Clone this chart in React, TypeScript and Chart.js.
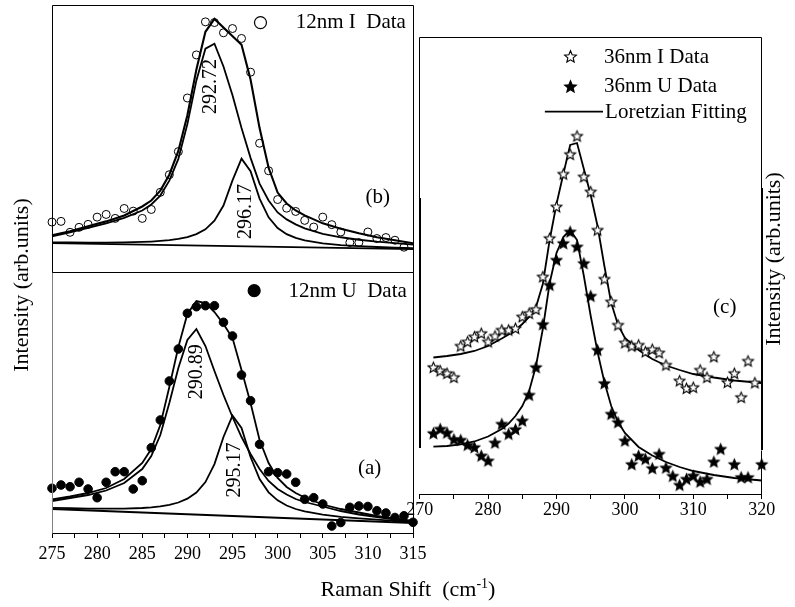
import React, { useEffect, useRef } from "react";
import { Chart, registerables } from "chart.js";

Chart.register(...registerables);

const W = 795;
const H = 607;
const SERIF = "'Liberation Serif', 'Times New Roman', Times, serif";
const AXIS_H = 40;

// ---------------- Panel (b): 12nm I ----------------
const bDataX = [275, 276, 277, 278, 279, 280, 281, 282, 283, 284, 285, 286, 287, 288, 289, 290, 291, 292, 293, 294, 295, 296, 297, 298, 299, 300, 301, 302, 303, 304, 305, 306, 307, 308, 309, 310, 311, 312, 313, 314];
const bDataY = [50.3, 51, 40, 45, 48, 55.3, 58, 54, 64, 61.3, 54, 63, 80.3, 98, 121.3, 175.3, 218.7, 252, 251.3, 241, 245.3, 235.3, 201.3, 129.7, 102, 73, 64.3, 61, 52, 45.3, 55.3, 47.7, 40.3, 29.7, 29.7, 40.3, 33.7, 34.7, 32, 25];

const fitX = [275, 277, 279, 281, 283, 285, 286, 287, 288, 289, 290, 291, 292, 293, 294, 295, 296, 297, 298, 299, 300, 301, 302, 303, 305, 307, 309, 311, 313, 315];
const bSum = [37, 41, 46, 51, 57, 66, 72, 82, 98, 122, 158, 204, 242, 255, null, null, 229, 194, 145, 105, 80, 69, 62, 57, 49, 43.5, 39, 35, 32, 29];
const bPeak1 = [36, 40, 44.5, 49, 54.5, 62, 68, 77, 92, 114, 149, 193, 225, 230, 207, 178, 145, 115, 89, 72, 60, 53, 48, 44, 38.5, 35, 32.5, 30.5, 29, 27.5];
const bPeak2 = [29.8, 29.7, 29.6, 29.6, 29.8, 30.3, 30.7, 31.3, 32.1, 33.3, 35.2, 38.2, 43, 51.7, 67, 92.3, 114.2, 101.6, 74, 55.1, 44.3, 38.1, 34.3, 31.8, 28.8, 27.1, 26, 25.2, 24.5, 24];
const baseX = [275, 315];
const bBase = [29, 23];

// ---------------- Panel (a): 12nm U ----------------
const aDataX = [275, 276, 277, 278, 279, 280, 281, 282, 283, 284, 285, 286, 287, 288, 289, 290, 291, 292, 293, 294, 295, 296, 297, 298, 299, 300, 301, 302, 303, 304, 305, 306, 307, 308, 309, 310, 311, 312, 313, 314, 315];
const aDataY = [44.7, 48, 46.3, 50.7, 44, 35.3, 50.7, 61.3, 61.3, 44, 52.3, 85.3, 113, 152, 184, 219.7, 226.3, 227.3, 227.3, 210.7, 197, 158, 132.3, 88.7, 61.3, 60.3, 59, 50.7, 33.7, 35.3, 29, 7, 10.5, 25.7, 27, 26.5, 22.3, 20, 15.5, 17.2, 10.7];
const aSum = [33.5, 36.5, 40, 45, 54, 70, 84, 108, 146, 186, 219, 232, 230, 221, 209, 195, 163, 130, 93, 70, 55, 46, 40, 35.5, 28.5, 24, 20.5, 17, 14.5, 12];
const aPeak1 = [32, 35, 38, 42.5, 50, 64, 77, 98, 130, 165, 193, 204, 187, 162, 138, 116, 96, 79, 64, 52, 44, 38.5, 34, 31, 26.5, 22, 18.5, 16, 13.5, 11.5];
const aPeak2 = [25.2, 24.8, 24.4, 24.3, 24.4, 25, 25.6, 26.6, 28.2, 30.5, 34.3, 40.4, 50.9, 68.9, 96, 117.4, 105, 76, 54, 40.7, 32.7, 27.5, 24, 21.6, 18.3, 16.2, 14.6, 13.3, 12.2, 11.2];
const aBase = [24, 10];

// ---------------- Panel (c): 36nm I / U ----------------
const cIX = [272, 273, 274, 275, 276, 277, 278, 279, 280, 281, 282, 283, 284, 285, 286, 287, 288, 289, 290, 291, 292, 293, 294, 295, 296, 297, 298, 299, 300, 301, 302, 303, 304, 305, 306, 308, 309, 310, 311, 312, 313, 315, 316, 317, 318, 319];
const cIY = [126.7, 123.3, 120.7, 116.7, 148, 152.3, 157.3, 160.7, 152.3, 158, 164, 164, 165.7, 177.3, 180.7, 184.7, 217.3, 255.7, 287.3, 320, 339.7, 358, 317.3, 302.3, 264, 215, 192.3, 169, 151.3, 148, 149, 142.3, 144.7, 141.3, 129, 113.3, 105.7, 106.7, 124, 116.7, 137.3, 111.7, 120.7, 96.7, 133, 111.3];
const cUX = [272, 273, 274, 275, 276, 277, 278, 279, 280, 281, 282, 283, 284, 285, 286, 287, 288, 289, 290, 291, 292, 293, 294, 295, 296, 297, 298, 299, 300, 301, 302, 303, 304, 305, 306, 307, 308, 309, 310, 311, 312, 313, 314, 316, 317, 318, 320];
const cUY = [60.7, 65, 61.3, 54.7, 54, 49, 46.7, 38.3, 33.3, 51.3, 70, 60, 64.7, 73.3, 99, 126.7, 169.7, 209, 234, 250.7, 262.3, 247.3, 230.7, 198, 144, 110.7, 80, 71.7, 53.3, 29.7, 38.3, 35, 25.7, 40, 26.3, 18, 9, 15, 18.3, 12.3, 15, 32.3, 45, 29.7, 16.7, 16.7, 29.7];
const cFitX = [272, 274, 276, 278, 280, 282, 283, 284, 285, 286, 287, 288, 289, 290, 291, 292, 293, 294, 295, 296, 297, 298, 299, 300, 302, 304, 306, 308, 310, 313, 316, 320];
const cIFit = [136.5, 138, 140, 143, 148, 155.5, 159.5, 164, 170, 177, 187, 210, 254, 290, 320, 349, 351, 325, 299, 268, 228, 191, 169, 156, 144, 135, 128.5, 124, 120, 116.5, 113.5, 111];
const cUFit = [47.3, 48, 49.7, 52.5, 57.5, 65, 70.5, 78, 88, 103, 128, 165, 211, 241, 257, 264, 254, 218, 178, 142, 112, 88, 72, 61, 47, 38.5, 32, 27, 23, 19, 16, 13.5];

// ---------------- text / labels ----------------
const legendB = "12nm I  Data";
const legendA = "12nm U  Data";
const legendC = ["36nm I Data", "36nm U Data", "Loretzian Fitting"];
const peakLabelsB = ["292.72", "296.17"];
const peakLabelsA = ["290.89", "295.17"];
const yTitle = "Intensity (arb.units)";
const xTitleMain = "Raman Shift  (cm";
const xTitleSup = "-1";

type TextItem = { text: string; x: number; y: number; size: number; rot?: number; align?: CanvasTextAlign };
type Mark = { kind: "circle" | "star" | "line"; x: number; y: number; x2?: number; r?: number; filled?: boolean };
type Seg = { x1: number; y1: number; x2: number; y2: number; w: number; color: string };

function pts(xs: number[], ys: (number | null)[]) {
  const out: { x: number; y: number }[] = [];
  xs.forEach((x, i) => {
    const y = ys[i];
    if (y !== null && y !== undefined) out.push({ x, y });
  });
  return out;
}

function starCanvas(r: number, filled: boolean) {
  const s = Math.ceil(r * 2 + 3) | 1;
  const c = document.createElement("canvas");
  c.width = s;
  c.height = s;
  const ctx = c.getContext("2d")!;
  ctx.translate(s / 2, s / 2 + r * 0.08);
  ctx.beginPath();
  for (let i = 0; i < 10; i++) {
    const rr = i % 2 === 0 ? r : r * 0.45;
    const a = -Math.PI / 2 + (i * Math.PI) / 5;
    const px = rr * Math.cos(a);
    const py = rr * Math.sin(a);
    if (i === 0) ctx.moveTo(px, py);
    else ctx.lineTo(px, py);
  }
  ctx.closePath();
  ctx.fillStyle = filled ? "#000" : "#fff";
  ctx.fill();
  ctx.lineWidth = 1.1;
  ctx.strokeStyle = "#000";
  ctx.stroke();
  return c;
}

const lineDs = (xs: number[], ys: (number | null)[], w = 1.8) => ({
  data: pts(xs, ys),
  showLine: true,
  borderColor: "#000",
  borderWidth: w,
  pointRadius: 0,
  pointHoverRadius: 0,
  fill: false,
  tension: 0,
  clip: false,
});

const markDs = (xs: number[], ys: number[], style: any, r: number, bg: string) => ({
  data: pts(xs, ys),
  showLine: false,
  pointStyle: style,
  pointRadius: r,
  pointHoverRadius: r,
  pointBackgroundColor: bg,
  pointBorderColor: "#000",
  pointBorderWidth: 1,
  clip: false,
});

type Spec = {
  area: { left: number; top: number; right: number; bottom: number };
  xMin: number;
  xMax: number;
  yMax: number;
  axis: null | { step: number; every: number; padding: number };
  datasets: any[];
  texts: TextItem[];
  marks: Mark[];
  frame: Seg[];
  overlay?: (ctx: CanvasRenderingContext2D) => void;
};

function drawText(ctx: CanvasRenderingContext2D, t: TextItem, px: number, py: number) {
  ctx.save();
  ctx.font = `${t.size}px ${SERIF}`;
  ctx.fillStyle = "#000";
  ctx.textAlign = t.align ?? "center";
  ctx.textBaseline = "middle";
  ctx.translate(px, py);
  if (t.rot) ctx.rotate((t.rot * Math.PI) / 180);
  ctx.fillText(t.text, 0, 0);
  ctx.restore();
}

function decorPlugin(spec: Spec, stars: { open: HTMLCanvasElement; filled: HTMLCanvasElement }) {
  return {
    id: "decor",
    afterDraw(chart: any) {
      const ctx: CanvasRenderingContext2D = chart.ctx;
      const xs = chart.scales.x;
      const ys = chart.scales.y;
      const X = (v: number) => xs.getPixelForValue(v);
      const Y = (v: number) => ys.getPixelForValue(v);
      const crisp = (p: number, w: number) => (Math.round(w) % 2 === 1 ? Math.round(p - 0.5) + 0.5 : Math.round(p));
      ctx.save();
      for (const s of spec.frame) {
        ctx.beginPath();
        ctx.strokeStyle = s.color;
        ctx.lineWidth = s.w;
        ctx.moveTo(crisp(X(s.x1), s.w), crisp(Y(s.y1), s.w));
        ctx.lineTo(crisp(X(s.x2), s.w), crisp(Y(s.y2), s.w));
        ctx.stroke();
      }
      for (const m of spec.marks) {
        const px = X(m.x);
        const py = Y(m.y);
        if (m.kind === "circle") {
          ctx.beginPath();
          ctx.arc(px, py, m.r ?? 6, 0, Math.PI * 2);
          ctx.lineWidth = 1.2;
          ctx.strokeStyle = "#000";
          if (m.filled) {
            ctx.fillStyle = "#000";
            ctx.fill();
          }
          ctx.stroke();
        } else if (m.kind === "star") {
          const img = m.filled ? stars.filled : stars.open;
          ctx.drawImage(img, Math.round(px - img.width / 2), Math.round(py - img.height / 2));
        } else {
          ctx.beginPath();
          ctx.lineWidth = 1.8;
          ctx.strokeStyle = "#000";
          ctx.moveTo(px, py);
          ctx.lineTo(X(m.x2 ?? m.x), py);
          ctx.stroke();
        }
      }
      for (const t of spec.texts) drawText(ctx, t, X(t.x), Y(t.y));
      if (spec.overlay) spec.overlay(ctx);
      ctx.restore();
    },
  };
}

function buildConfig(spec: Spec, stars: any) {
  const a = spec.area;
  const padBottom = spec.axis ? H - a.bottom - AXIS_H : H - a.bottom;
  const ax = spec.axis;
  const xScale: any = { type: "linear", min: spec.xMin, max: spec.xMax, display: !!ax };
  if (ax) {
    Object.assign(xScale, {
      afterFit: (s: any) => {
        s.height = AXIS_H;
      },
      ticks: {
        stepSize: ax.step,
        autoSkip: false,
        maxRotation: 0,
        minRotation: 0,
        padding: ax.padding,
        color: "#000",
        font: { family: SERIF, size: 18 },
        callback: (v: number) => (Math.abs(v % ax.every) < 1e-6 ? String(v) : ""),
      },
      grid: { display: true, drawOnChartArea: false, drawTicks: true, tickLength: 5, color: "#000", lineWidth: 1 },
      border: { display: true, color: "#000", width: 1 },
    });
  }
  return {
    type: "scatter" as const,
    data: { datasets: spec.datasets },
    options: {
      responsive: false,
      animation: false as const,
      events: [],
      layout: { padding: { left: a.left, right: W - a.right, top: a.top, bottom: padBottom } },
      plugins: { legend: { display: false }, tooltip: { enabled: false }, title: { display: false } },
      scales: { x: xScale, y: { type: "linear", min: 0, max: spec.yMax, display: false } },
    },
    plugins: [decorPlugin(spec, stars)],
  };
}

function box(x1: number, x2: number, y1: number, y2: number, leftColor = "#000"): Seg[] {
  return [
    { x1, y1: y2, x2, y2, w: 1, color: "#000" },
    { x1, y1, x2: x1, y2, w: 1, color: leftColor },
    { x1: x2, y1, x2, y2, w: 1, color: "#000" },
  ];
}

function drawTitles(ctx: CanvasRenderingContext2D) {
  drawText(ctx, { text: yTitle, x: 0, y: 0, size: 22, rot: -90 }, 22, 285);
  drawText(ctx, { text: yTitle, x: 0, y: 0, size: 22, rot: -90 }, 774, 259);
  ctx.save();
  ctx.fillStyle = "#000";
  ctx.textBaseline = "middle";
  ctx.textAlign = "left";
  ctx.font = `22px ${SERIF}`;
  const w1 = ctx.measureText(xTitleMain).width;
  const w3 = ctx.measureText(")").width;
  ctx.font = `14px ${SERIF}`;
  const w2 = ctx.measureText(xTitleSup).width;
  let x = 408 - (w1 + w2 + w3) / 2;
  const y = 590;
  ctx.font = `22px ${SERIF}`;
  ctx.fillText(xTitleMain, x, y);
  x += w1;
  ctx.font = `14px ${SERIF}`;
  ctx.fillText(xTitleSup, x, y - 6);
  x += w2;
  ctx.font = `22px ${SERIF}`;
  ctx.fillText(")", x, y);
  ctx.restore();
}

function makeSpecs(stars: any) {
  const b: Spec = {
    area: { left: 52, top: 3, right: 413, bottom: 272 },
    xMin: 275,
    xMax: 315,
    yMax: 269,
    axis: null,
    datasets: [
      markDs(bDataX, bDataY, "circle", 4, "rgba(0,0,0,0)"),
      lineDs(fitX, bSum, 2.1),
      lineDs(fitX, bPeak1),
      lineDs(fitX, bPeak2),
      lineDs(baseX, bBase),
    ],
    texts: [
      { text: peakLabelsB[0], x: 292.56, y: 187, size: 20, rot: -90 },
      { text: peakLabelsB[1], x: 296.44, y: 61, size: 20, rot: -90 },
      { text: "(b)", x: 311.1, y: 75, size: 21 },
      { text: legendB, x: 302, y: 251, size: 21, align: "left" },
    ],
    marks: [{ kind: "circle", x: 298.1, y: 251.3, r: 6, filled: false }],
    frame: [...box(275, 315, 0, 269), { x1: 275, y1: 0, x2: 315, y2: 0, w: 1, color: "#000" }],
  };
  const a: Spec = {
    area: { left: 52, top: 272, right: 413, bottom: 533 },
    xMin: 275,
    xMax: 315,
    yMax: 261,
    axis: { step: 2.5, every: 5, padding: 5 },
    datasets: [
      markDs(aDataX, aDataY, "circle", 4.3, "#000"),
      lineDs(fitX, aSum),
      lineDs(fitX, aPeak1),
      lineDs(fitX, aPeak2),
      lineDs(baseX, aBase),
    ],
    texts: [
      { text: peakLabelsA[0], x: 291.0, y: 161.3, size: 20, rot: -90 },
      { text: peakLabelsA[1], x: 295.2, y: 63, size: 20, rot: -90 },
      { text: "(a)", x: 310.2, y: 65, size: 21 },
      { text: legendA, x: 301.2, y: 242, size: 21, align: "left" },
    ],
    marks: [{ kind: "circle", x: 297.4, y: 242.3, r: 6, filled: true }],
    frame: box(275, 315, 0, 261, "#808080"),
  };
  const c: Spec = {
    area: { left: 419.7, top: 37, right: 761.7, bottom: 494 },
    xMin: 270,
    xMax: 320,
    yMax: 457,
    axis: { step: 5, every: 10, padding: 0 },
    datasets: [
      markDs(cIX, cIY, stars.dataOpen, 5, "#fff"),
      markDs(cUX, cUY, stars.dataFilled, 5, "#000"),
      lineDs(cFitX, cIFit),
      lineDs(cFitX, cUFit),
    ],
    texts: [
      { text: legendC[0], x: 296.95, y: 437, size: 21, align: "left" },
      { text: legendC[1], x: 296.95, y: 408, size: 21, align: "left" },
      { text: legendC[2], x: 297.1, y: 382, size: 21, align: "left" },
      { text: "(c)", x: 314.6, y: 187, size: 21 },
    ],
    marks: [
      { kind: "star", x: 292.0, y: 437.3, filled: false },
      { kind: "star", x: 292.1, y: 408, filled: true },
      { kind: "line", x: 288.3, x2: 296.8, y: 382.3 },
    ],
    frame: [
      { x1: 270, y1: 457, x2: 320, y2: 457, w: 1, color: "#000" },
      { x1: 270, y1: 457, x2: 270, y2: 296, w: 1, color: "#000" },
      { x1: 270, y1: 296, x2: 270, y2: 46, w: 2, color: "#000" },
      { x1: 320, y1: 457, x2: 320, y2: 306, w: 1, color: "#000" },
      { x1: 320, y1: 306, x2: 320, y2: 44, w: 2, color: "#000" },
      { x1: 320, y1: 44, x2: 320, y2: 0, w: 1, color: "#000" },
    ],
    overlay: drawTitles,
  };
  return { a, b, c };
}

export default function App() {
  const refB = useRef<HTMLCanvasElement>(null);
  const refA = useRef<HTMLCanvasElement>(null);
  const refC = useRef<HTMLCanvasElement>(null);
  useEffect(() => {
    const stars: any = {
      open: starCanvas(6.2, false),
      filled: starCanvas(6.2, true),
      dataOpen: starCanvas(5.6, false),
      dataFilled: starCanvas(5.6, true),
    };
    const specs = makeSpecs(stars);
    const charts = [
      new Chart(refC.current!, buildConfig(specs.c, stars) as any),
      new Chart(refA.current!, buildConfig(specs.a, stars) as any),
      new Chart(refB.current!, buildConfig(specs.b, stars) as any),
    ];
    return () => charts.forEach((ch) => ch.destroy());
  }, []);
  const cs: React.CSSProperties = { position: "absolute", left: 0, top: 0, width: W, height: H };
  return (
    <div style={{ position: "fixed", left: 0, top: 0, width: W, height: H, background: "#fff", overflow: "hidden" }}>
      <canvas ref={refC} width={W} height={H} style={cs} />
      <canvas ref={refA} width={W} height={H} style={cs} />
      <canvas ref={refB} width={W} height={H} style={cs} />
    </div>
  );
}
